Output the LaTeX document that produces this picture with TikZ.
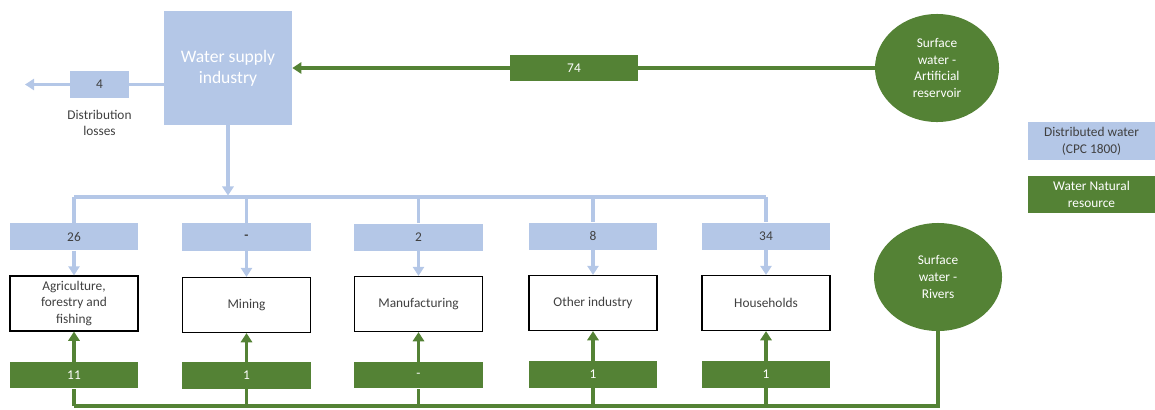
\documentclass[tikz,border=0pt]{standalone}
\usepackage{fontspec}
\setmainfont{Carlito}
\usetikzlibrary{arrows.meta,positioning,shapes.geometric}
\definecolor{distblue}{HTML}{B4C7E7}
\definecolor{natgreen}{HTML}{548235}
\definecolor{labelgrey}{HTML}{404040}
\tikzset{
  blueflow/.style={draw=distblue,line width=2.3pt},
  greenflow/.style={draw=natgreen,line width=2.3pt},
  tip/.style={-{Triangle[width=8pt,length=6.5pt]}},
  smalltext/.style={font=\fontsize{9.5}{12}\selectfont},
  bluebox/.style={smalltext,fill=distblue,text=labelgrey,minimum width=3.2cm,
    minimum height=0.68cm,inner sep=0pt,align=center},
  greenbox/.style={smalltext,fill=natgreen,text=white,minimum width=3.2cm,
    minimum height=0.66cm,inner sep=0pt,align=center},
  sector/.style={smalltext,draw=black,line width=1pt,fill=white,text=labelgrey,
    minimum width=3.2cm,minimum height=1.37cm,inner sep=0pt,align=center},
  source/.style={smalltext,ellipse,fill=natgreen,text=white,inner sep=0pt,align=center}
}
\begin{document}
\begin{tikzpicture}[x=0.025cm,y=-0.025cm]
\useasboundingbox (0,0) rectangle (1155,409);
% the supply industry and the reservoir that feeds it
\node[fill=distblue,text=white,minimum width=3.2cm,minimum height=2.85cm,
  align=center,font=\fontsize{12.5}{15}\selectfont] (supply) at (228,68)
  {Water supply\\industry};
\node[source,minimum width=3.1cm,minimum height=2.7cm] (reservoir) at (937,68)
  {Surface\\water -\\Artificial\\reservoir};
\node[greenbox,minimum height=0.65cm] (v74) at (574,68) {74};
\draw[greenflow] (reservoir.west) -- (v74.east);
\draw[greenflow,tip] (v74.west) -- (supply.east);
% distribution losses
\node[bluebox,minimum width=1.475cm] (loss) at (99.5,84.5) {4};
\node[smalltext,align=center,text=labelgrey,below=0.16cm of loss] (losstext)
  {Distribution\\losses};
\coordinate (lossend) at (25,84.5);
\draw[blueflow] (loss.east) -- (loss.east -| supply.west);
\draw[blueflow,tip] (loss.west) -- (lossend);
% the five users, with what they get from each side
\node[sector] (agri) at (74,303.5) {Agriculture,\\forestry and\\fishing};
\node[sector] (mining) at (246.5,305) {Mining};
\node[sector] (manuf) at (418.5,304) {Manufacturing};
\node[sector] (other) at (593,303) {Other industry};
\node[sector] (house) at (766,303) {Households};
\node[bluebox,above=0.62cm of agri] (dagri) {26};
\node[bluebox,above=0.65cm of mining] (dmining) {\textbf{-}};
\node[bluebox,above=0.62cm of manuf] (dmanuf) {2};
\node[bluebox,above=0.62cm of other] (dother) {8};
\node[bluebox,above=0.62cm of house] (dhouse) {34};
\node[greenbox,below=0.75cm of agri] (nagri) {11};
\node[greenbox,below=0.72cm of mining] (nmining) {1};
\node[greenbox,below=0.74cm of manuf] (nmanuf) {-};
\node[greenbox,below=0.75cm of other] (nother) {1};
\node[greenbox,below=0.75cm of house] (nhouse) {1};
% distributed water: down from the industry and along the top
\coordinate (bus) at (228,197);
\draw[blueflow,tip] (supply.south) -- ([yshift=1pt]bus);
\draw[blueflow] (dagri.north |- bus) -- (dhouse.north |- bus);
\draw[blueflow] (dagri.north |- bus) -- (dagri.north);
\draw[blueflow] (dmining.north |- bus) -- (dmining.north);
\draw[blueflow] (dmanuf.north |- bus) -- (dmanuf.north);
\draw[blueflow] (dother.north |- bus) -- (dother.north);
\draw[blueflow] (dhouse.north |- bus) -- (dhouse.north);
\draw[blueflow,tip] (dagri.south) -- (agri.north);
\draw[blueflow,tip] (dmining.south) -- (mining.north);
\draw[blueflow,tip] (dmanuf.south) -- (manuf.north);
\draw[blueflow,tip] (dother.south) -- (other.north);
\draw[blueflow,tip] (dhouse.south) -- (house.north);
% the rivers and the line along the bottom
\node[source,minimum width=3.2cm,minimum height=2.7cm] (rivers) at (938,277)
  {Surface\\water -\\Rivers};
\coordinate (river bus) at (938,406);
\draw[greenflow] (rivers.south) -- (river bus) -- (nagri.south |- river bus);
\draw[greenflow] (nagri.south |- river bus) -- (nagri.south);
\draw[greenflow] (nmining.south |- river bus) -- (nmining.south);
\draw[greenflow] (nmanuf.south |- river bus) -- (nmanuf.south);
\draw[greenflow] (nother.south |- river bus) -- (nother.south);
\draw[greenflow] (nhouse.south |- river bus) -- (nhouse.south);
\draw[greenflow,tip] (nagri.north) -- (agri.south);
\draw[greenflow,tip] (nmining.north) -- (mining.south);
\draw[greenflow,tip] (nmanuf.north) -- (manuf.south);
\draw[greenflow,tip] (nother.north) -- (other.south);
\draw[greenflow,tip] (nhouse.north) -- (house.south);
% legend
\node[bluebox,minimum width=3.175cm,minimum height=0.93cm] (legdist) at (1091.5,141)
  {Distributed water\\(CPC 1800)};
\node[greenbox,minimum width=3.175cm,minimum height=0.93cm] (legnat) at (1091.5,194.5)
  {Water Natural\\resource};
\end{tikzpicture}
\end{document}
